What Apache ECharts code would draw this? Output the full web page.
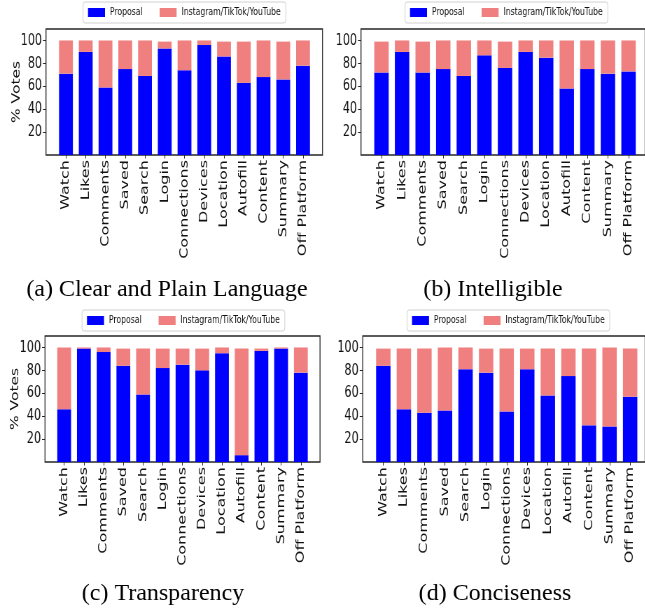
<!DOCTYPE html>
<html>
<head>
<meta charset="utf-8">
<script src="https://cdn.jsdelivr.net/npm/echarts@6/dist/echarts.min.js"></script>
<style>
html,body{margin:0;padding:0;background:#fff;overflow:hidden;}
#wrap{width:645px;height:611px;overflow:hidden;position:relative;}
#chart{height:611px;transform-origin:0 0;position:absolute;left:0;top:0;}
</style>
</head>
<body>
<div id="wrap"><div id="chart"></div></div>
<script>
const categories = ['Watch','Likes','Comments','Saved','Search','Login','Connections','Devices','Location','Autofill','Content','Summary','Off Platform'];
const seriesNames = ['Proposal','Instagram/TikTok/YouTube'];
const yTicks = [20,40,60,80,100];
const captions = ['(a) Clear and Plain Language','(b) Intelligible','(c) Transparency','(d) Conciseness'];

// (a) Clear and Plain Language
const proposalA = [71,90,59,75,69,93,74,96,86,63,68,66,78];
const platformA = [29,10,41,25,31,6,26,4,13,36,32,33,22];
// (b) Intelligible
const proposalB = [72,90,72,75,69,87,76,90,85,58,75,71,73];
const platformB = [27,10,27,25,31,13,23,10,15,42,25,29,27];
// (c) Transparency
const proposalC = [46,99,96,84,59,82,85,80,95,6,97,99,78];
const platformC = [54,1,4,15,40,17,14,19,5,93,2,1,22];
// (d) Conciseness
const proposalD = [84,46,43,45,81,78,44,81,58,75,32,31,57];
const platformD = [15,53,56,55,19,21,55,18,41,24,67,69,42];

const panelData = [[proposalA,platformA],[proposalB,platformB],[proposalC,platformC],[proposalD,platformD]];

// The original figure is horizontally compressed; draw wider and squeeze.
const S = 0.7;
const W = 645 / S;
const el = document.getElementById('chart');
el.style.width = W + 'px';
el.style.transform = 'scaleX(' + S + ')';

// layout in screen pixels (converted to canvas with /S for horizontal values)
const panels = [
  {frame:{left:46, top:29, width:276.5, height:126}, bars:{left:56.1, width:256.8}, legend:{left:83, top:2}, cap:[167,290], yName:true},
  {frame:{left:361, top:29, width:288, height:126}, bars:{left:371.2, width:267.6}, legend:{left:405, top:2}, cap:[493,290], yName:false},
  {frame:{left:45, top:336, width:275, height:126}, bars:{left:54.3, width:256.4}, legend:{left:82, top:310}, cap:[163,594], yName:true},
  {frame:{left:362.7, top:336, width:288, height:126}, bars:{left:373, width:267.4}, legend:{left:407, top:310}, cap:[495,594], yName:false}
];

const blue = '#0000ff', salmon = '#f08080', frameColor = '#262626', textColor = '#111';
const sans = '"DejaVu Sans", sans-serif';
const grid = [], xAxis = [], yAxis = [], series = [], legend = [], graphic = [];

panels.forEach((p, i) => {
  const fi = grid.length;
  grid.push({left:p.frame.left / S, top:p.frame.top, width:p.frame.width / S, height:p.frame.height,
    show:true, borderColor:frameColor, borderWidth:1.3, backgroundColor:'transparent', containLabel:false});
  xAxis.push({gridIndex:fi, type:'category', data:categories, show:false});
  yAxis.push({gridIndex:fi, type:'value', min:0, max:110,
    axisLine:{show:false}, splitLine:{show:false},
    axisTick:{show:true, length:3 / S, lineStyle:{color:frameColor}, customValues:yTicks},
    axisLabel:{show:true, margin:4 / S, customValues:yTicks, color:textColor, fontFamily:sans, fontSize:16},
    name: p.yName ? '% Votes' : '', nameLocation:'middle', nameGap:34, nameRotate:90, nameMoveOverlap:false,
    nameTextStyle:{fontFamily:sans, fontSize:15.5, color:textColor}
  });
  const bi = grid.length;
  grid.push({left:p.bars.left / S, top:p.frame.top, width:p.bars.width / S, height:p.frame.height, containLabel:false});
  xAxis.push({gridIndex:bi, type:'category', data:categories, boundaryGap:true,
    axisLine:{show:false},
    axisTick:{show:true, alignWithLabel:true, interval:0, length:3.5, lineStyle:{color:frameColor}},
    axisLabel:{interval:0, rotate:90, margin:5, color:textColor, fontFamily:sans, fontSize:16}
  });
  yAxis.push({gridIndex:bi, type:'value', min:0, max:110, show:false});
  const [prop, plat] = panelData[i];
  series.push({name:seriesNames[0], type:'bar', stack:'s'+i, xAxisIndex:bi, yAxisIndex:bi, data:prop, barWidth:'70%', itemStyle:{color:blue}, animation:false});
  series.push({name:seriesNames[1], type:'bar', stack:'s'+i, xAxisIndex:bi, yAxisIndex:bi, data:plat, barWidth:'70%', itemStyle:{color:salmon}, animation:false});
  legend.push({left:p.legend.left / S, top:p.legend.top, orient:'horizontal', data:seriesNames, icon:'rect',
    itemWidth:17 / S, itemHeight:9, itemGap:17 / S, padding:[5, 5 / S],
    borderColor:'#d0d0d0', borderWidth:1, borderRadius:3, backgroundColor:'#fff',
    textStyle:{fontFamily:sans, fontSize:11, color:textColor, padding:[0,0,0,2]},
    selectedMode:false});
  graphic.push({type:'text', x:p.cap[0] / S, y:p.cap[1], scaleX:1 / S, scaleY:1,
    style:{text:captions[i], align:'center', verticalAlign:'middle', fontFamily:'"Liberation Serif", "Times New Roman", serif', fontSize:24, fill:'#000'}});
});

const chart = echarts.init(el, null, {renderer:'canvas', width:W, height:611});
chart.setOption({animation:false, backgroundColor:'#fff', grid, xAxis, yAxis, series, legend, graphic});
</script>
</body>
</html>
